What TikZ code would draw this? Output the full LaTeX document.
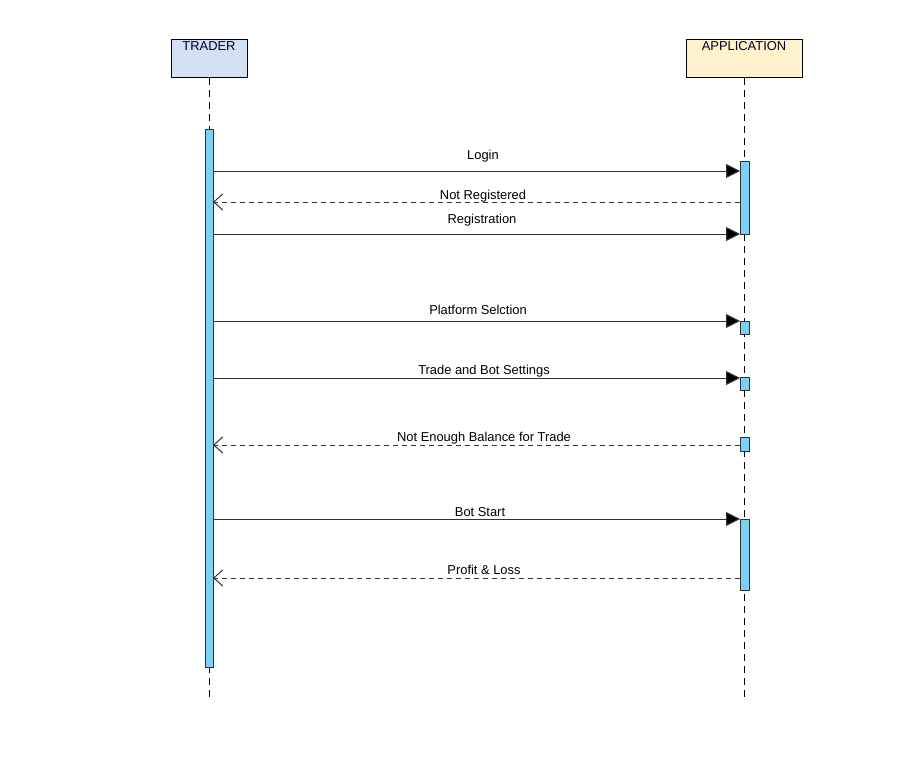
\documentclass[tikz,border=0pt]{standalone}
\usepackage{fontspec}
\setmainfont{Liberation Sans}
\usetikzlibrary{arrows.meta}
\definecolor{actorblue}{HTML}{D4E1F5}
\definecolor{actoryellow}{HTML}{FFF2CC}
\definecolor{barblue}{HTML}{7DCFF3}
\definecolor{msgline}{HTML}{333333}
\tikzset{
  actor/.style={draw=black, line width=1pt, minimum height=38pt, inner sep=0pt},
  lifeline/.style={draw=black, line width=1pt, dash pattern=on 7pt off 5pt},
  activation/.style={draw=msgline, line width=1pt, fill=barblue},
  callmsg/.style={draw=msgline, line width=1pt, -{Triangle[length=14pt,width=14pt,fill=black]}},
  replymsg/.style={draw=msgline, line width=1pt, dash pattern=on 5pt off 4pt, -{Straight Barb[length=9pt,width=16pt,line width=1pt]}},
  msglabel/.style={font=\fontsize{12.9}{15}\selectfont, inner sep=0pt, anchor=base},
  actorlabel/.style={font=\fontsize{12.9}{15}\selectfont, inner sep=0pt, anchor=base, text=black!85!blue},
}
\begin{document}
\begin{tikzpicture}[x=1pt,y=-1pt]
\useasboundingbox (0,0) rectangle (913,757);
\fill[white] (0,0) rectangle (913,757);

% participants
\node[actor, fill=actorblue, minimum width=76pt, anchor=north] (trader) at (209,39) {};
\node[actor, fill=actoryellow, minimum width=116pt, anchor=north] (app) at (744,39) {};
\node[actorlabel] at (209,51) {TRADER};
\node[actorlabel] at (744,51) {APPLICATION};

% lifelines
\coordinate (tend) at (209,700);
\coordinate (aend) at (744,700);
\draw[lifeline] (trader.south) -- (tend);
\draw[lifeline] (app.south) -- (aend);

% activation bars
\draw[activation] (205,130) rectangle (213,667);
\draw[activation] (740,162) rectangle (749,234);
\draw[activation] (740,321) rectangle (749,334);
\draw[activation] (740,377) rectangle (749,390);
\draw[activation] (740,437) rectangle (749,451);
\draw[activation] (740,519) rectangle (749,590);

% message end points
\foreach \n/\y in {login/171, notreg/202, reg/234, plat/321, trade/378, bal/445, bot/519, pl/578}{
  \coordinate (t\n) at (213,\y);
  \coordinate (a\n) at (740,\y);
}

% messages
\draw[callmsg] (tlogin) -- (alogin);
\node[msglabel] at (483,160) {Login};
\draw[replymsg] (anotreg) -- (tnotreg);
\node[msglabel] at (483,199) {Not Registered};
\draw[callmsg] (treg) -- (areg);
\node[msglabel] at (482,223) {Registration};
\draw[callmsg] (tplat) -- (aplat);
\node[msglabel] at (478,314) {Platform Selction};
\draw[callmsg] (ttrade) -- (atrade);
\node[msglabel] at (484,374) {Trade and Bot Settings};
\draw[replymsg] (abal) -- (tbal);
\node[msglabel] at (484,441) {Not Enough Balance for Trade};
\draw[callmsg] (tbot) -- (abot);
\node[msglabel] at (480,516) {Bot Start};
\draw[replymsg] (apl) -- (tpl);
\node[msglabel] at (484,574) {Profit \& Loss};
\end{tikzpicture}
\end{document}
